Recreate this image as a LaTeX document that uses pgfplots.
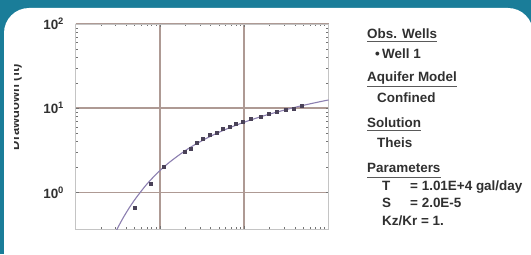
\documentclass[border=0pt]{standalone}
\usepackage{pgfplots}
\pgfplotsset{compat=1.18}
\usepackage{fontspec}
\setmainfont{Liberation Sans}
\definecolor{framec}{HTML}{1A7D99}
\definecolor{gridc}{HTML}{AE9A94}
\definecolor{curvec}{HTML}{8C7FB0}
\definecolor{markc}{HTML}{4A4258}
\definecolor{txt}{HTML}{303030}
\definecolor{axc}{HTML}{C4C4C4}

\pgfplotstableread{
t s
5.0 0.663
7.8 1.28
11.2 2.04
19.5 3.08
23.0 3.34
27.2 3.94
32.1 4.40
38.9 4.90
47.3 5.18
55.8 5.78
67.8 6.10
80.2 6.63
97.3 7.00
121 7.60
156 8.03
195 8.72
243 9.20
312 9.73
389 10.0
486 10.6
}\wellone

\pgfplotstableread{
t s
2.6 0.252
3.25 0.399
3.9 0.553
4.875 0.783
6.5 1.145
7.8 1.411
9.75 1.770
13.0 2.282
19.5 3.081
26.0 3.690
39.0 4.594
55.7 5.420
78.0 6.220
97.5 6.757
130 7.457
195 8.454
390 10.18
557 11.07
780 11.91
975 12.47
1000 12.53
}\theis

\begin{document}
\begin{tikzpicture}[x=1bp,y=1bp]
\useasboundingbox (0,0) rectangle (531,254);
\fill[framec] (0,0) rectangle (531,254);
\fill[white, rounded corners=25bp] (4,-40) rectangle (533,246);
\begin{axis}[
  at={(75.5bp,25bp)}, anchor=south west,
  scale only axis, width=253bp, height=205bp,
  xmode=log, ymode=log,
  xmin=1, xmax=1000, ymin=0.368, ymax=100,
  xtick={1,10,100,1000}, xticklabels={},
  ytick={1,10,100},
  yticklabels={10\textsuperscript{0},10\textsuperscript{1},10\textsuperscript{2}},
  yticklabel style={font=\fontsize{13.5}{13.5}\selectfont\bfseries, text=txt, xshift=-8bp},
  grid=major,
  major grid style={gridc, line width=1.5bp},
  axis line style={axc, line width=0.6bp},
  tick style={black!55, line width=0.5bp},
  major tick length=3bp, minor tick length=2.5bp,
  tick align=inside,
  clip=true,
]
\addplot[curvec, line width=1.1bp, smooth] table[x=t,y=s] {\theis};
\addplot[only marks, mark=square*, mark size=1.5bp, mark options={fill=markc, draw=markc}] table[x=t,y=s] {\wellone};
\end{axis}
\begin{scope}
\clip (14,60) rectangle (40,230);
\node[rotate=90, anchor=base, font=\fontsize{13}{13}\selectfont\bfseries, text=txt] at (19,147) {Drawdown (ft)};
\end{scope}
\begin{scope}[every node/.style={anchor=base west, inner sep=0pt, font=\fontsize{13.5}{13.5}\selectfont\bfseries, text=txt}]
\node (a) at (367,216) {Obs. Wells};
\draw[txt!80, line width=0.9bp] ([yshift=-3bp]a.base west) -- ([yshift=-3bp]a.base east);
\node at (375,196) {\textbullet};
\node at (382,196) {Well 1};
\node (b) at (367,173) {Aquifer Model};
\draw[txt!80, line width=0.9bp] ([yshift=-5bp]b.base west) -- ([yshift=-5bp]b.base east);
\node at (377,152) {Confined};
\node (c) at (367,127) {Solution};
\draw[txt!80, line width=0.9bp] ([yshift=-3bp]c.base west) -- ([yshift=-3bp]c.base east);
\node at (377,107) {Theis};
\node (d) at (367,82) {Parameters};
\draw[txt!80, line width=0.9bp] ([yshift=-5bp]d.base west) -- ([yshift=-5bp]d.base east);
\node at (382,64) {T};
\node at (410,64) {= 1.01E+4 gal/day};
\node at (382,47) {S};
\node at (410,47) {= 2.0E-5};
\node at (382,29) {Kz/Kr = 1.};
\end{scope}
\end{tikzpicture}
\end{document}
